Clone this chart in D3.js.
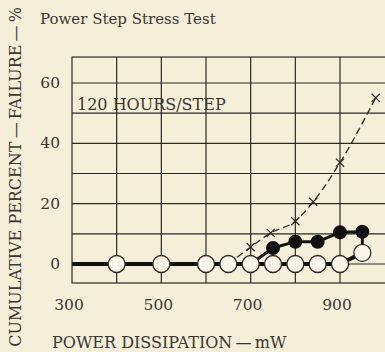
<!DOCTYPE html>
<html>
<head>
<meta charset="utf-8">
<script src="https://cdn.jsdelivr.net/npm/d3@7"></script>
<style>
  html, body { margin: 0; padding: 0; background: #f5efda; }
  svg { display: block; }
  text { font-family: "DejaVu Serif", "Liberation Serif", serif; fill: #3b3733; }
</style>
</head>
<body>
<svg id="chart" width="385" height="352"></svg>
<script>
// Power step stress test: cumulative failure (%) vs. power dissipation (mW)
const xTicks = [300, 500, 700, 900];
const yTicks = [0, 20, 40, 60];
const xGrid = [400, 500, 600, 700, 800, 900];
const yGrid = [0, 10, 20, 30, 40, 50, 60];

// open-circle series (line begins at the left edge, circles from 400 mW)
const openStart = 300;
const openX = [400, 500, 600, 650, 700, 750, 800, 850, 900, 950];
const openY = [0, 0, 0, 0, 0, 0, 0, 0, 0, 3.7];

// filled-circle series, branching off the 700 mW point and closing at 950 mW
const filledX = [750, 800, 850, 900, 950];
const filledY = [5.3, 7.4, 7.4, 10.5, 10.7];

// cross-marked dashed series (starts from the 650 mW point on the baseline)
const crossX = [700, 745, 800, 840, 900, 980];
const crossY = [5.6, 10.3, 14.2, 20.6, 33.6, 55.1];

const svg = d3.select("#chart");
const ink = "#2b2926";

const x = d3.scaleLinear().domain([300, 900]).range([72, 340]);
const y = d3.scaleLinear().domain([0, 60]).range([264, 83]);

// plot frame extents (frame runs off the right edge)
const frameX = [300, 1030];
const frameY = [-6.3, 68.6];

const grid = svg.append("g").attr("stroke", ink).attr("stroke-width", 1.2);
grid.selectAll("line.v").data(xGrid).join("line")
  .attr("x1", d => x(d)).attr("x2", d => x(d))
  .attr("y1", y(frameY[0])).attr("y2", y(frameY[1]));
grid.selectAll("line.h").data(yGrid).join("line")
  .attr("x1", x(frameX[0])).attr("x2", x(frameX[1]))
  .attr("y1", d => y(d)).attr("y2", d => y(d));
grid.append("rect")
  .attr("x", x(frameX[0])).attr("y", y(frameY[1]))
  .attr("width", x(frameX[1]) - x(frameX[0]))
  .attr("height", y(frameY[0]) - y(frameY[1]))
  .attr("fill", "none");

// axis tick labels
svg.append("g").selectAll("text").data(xTicks).join("text")
  .attr("x", d => x(d) - 3).attr("y", 310)
  .attr("text-anchor", "middle").attr("font-size", 15.5)
  .text(d => d);
svg.append("g").selectAll("text").data(yTicks).join("text")
  .attr("x", 60).attr("y", d => y(d) + 5)
  .attr("text-anchor", "end").attr("font-size", 15.5)
  .text(d => d);

const line = d3.line().x(d => x(d[0])).y(d => y(d[1]));

// dashed cross series
const crossPts = [[openX[3], openY[3]]].concat(crossX.map((v, i) => [v, crossY[i]]));
svg.append("path")
  .attr("d", line.curve(d3.curveMonotoneX)(crossPts))
  .attr("fill", "none").attr("stroke", ink)
  .attr("stroke-width", 1.3).attr("stroke-dasharray", "7,4");
line.curve(d3.curveLinear);
svg.append("g").selectAll("path").data(crossX).join("path")
  .attr("transform", (d, i) => `translate(${x(d)},${y(crossY[i])})`)
  .attr("d", d3.symbol(d3.symbolX, 45))
  .attr("fill", "none").attr("stroke", ink).attr("stroke-width", 1.2);

// filled series line: from the 700 mW baseline point up and back down to the 950 mW open point
const filledPts = [[openX[4], openY[4]]]
  .concat(filledX.map((v, i) => [v, filledY[i]]))
  .concat([[openX[9], openY[9]]]);
svg.append("path")
  .attr("d", line(filledPts))
  .attr("fill", "none").attr("stroke", "#111").attr("stroke-width", 3)
  .attr("stroke-linejoin", "round");

// open series line
const openPts = [[openStart, 0]].concat(openX.map((v, i) => [v, openY[i]]));
svg.append("path")
  .attr("d", line(openPts))
  .attr("fill", "none").attr("stroke", "#111").attr("stroke-width", 4)
  .attr("stroke-linejoin", "round");

svg.append("g").selectAll("circle").data(openX).join("circle")
  .attr("cx", d => x(d)).attr("cy", (d, i) => y(openY[i]))
  .attr("r", 8.5)
  .attr("fill", "#fbf7ea").attr("stroke", ink).attr("stroke-width", 1.3);

svg.append("g").selectAll("circle").data(filledX).join("circle")
  .attr("cx", d => x(d)).attr("cy", (d, i) => y(filledY[i]))
  .attr("r", 7)
  .attr("fill", "#111");

// annotations and titles
svg.append("text").attr("x", 40).attr("y", 24).attr("font-size", 15)
  .text("Power Step Stress Test");
svg.append("text").attr("x", 77).attr("y", 110).attr("font-size", 16)
  .text("120 HOURS/STEP");
svg.append("text").attr("x", 52).attr("y", 348).attr("font-size", 16)
  .text("POWER DISSIPATION\u2009\u2014\u2009mW");
svg.append("text")
  .attr("transform", "translate(21,7) rotate(-90)")
  .attr("text-anchor", "end")
  .attr("font-size", 16)
  .text("CUMULATIVE PERCENT\u2009\u2014\u2009FAILURE\u2009\u2014\u2009%");
</script>
</body>
</html>
